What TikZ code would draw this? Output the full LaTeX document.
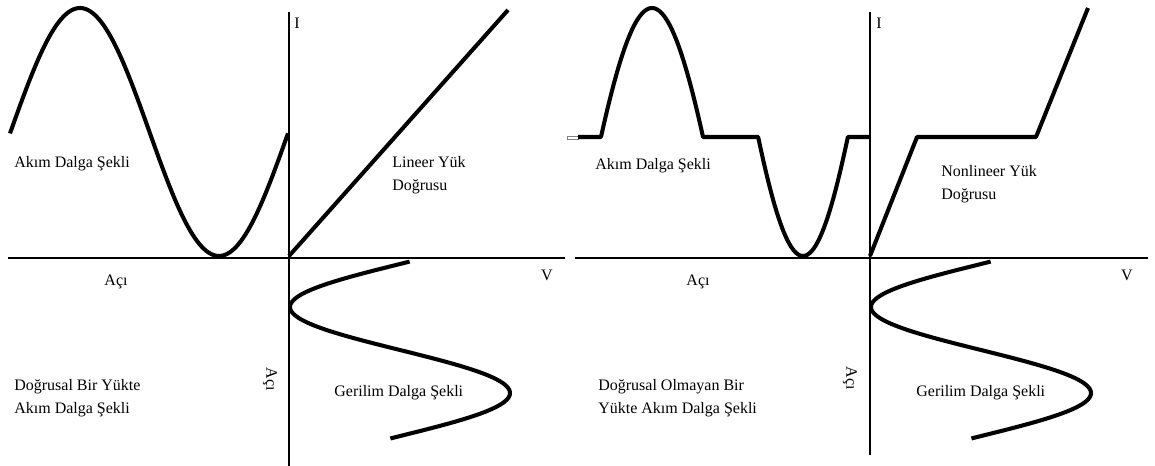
\documentclass[tikz,border=0pt]{standalone}
\usepackage{fontspec}
\setmainfont{Liberation Serif}

\begin{document}
\begin{tikzpicture}[x=0.02cm, y=-0.02cm,
	eksen/.style={line width=0.6pt},
	egri/.style={line width=2.3pt, line join=round},
	etiket/.style={font=\fontsize{9.1}{13}\selectfont, inner sep=0pt}]

\useasboundingbox (0,0) rectangle (1155,466);

% Doğrusal yük
	\draw[eksen] (8,258) -- (565,258);
	\draw[eksen] (289,12) -- (289,466);

	\draw[egri] plot[domain=10:288, samples=120] (\x, {132-124*cos(1.295*(\x-80))});
	\draw[egri] (289,256) -- (508,10);
	\draw[egri] plot[domain=-95:275, samples=120] ({400-110*cos(\x)}, {307+0.478*\x});

	\node[etiket, anchor=west] (I1) at (294,23) {I};
	\node[etiket, anchor=west] (akim1) at (14,164) {Akım Dalga Şekli};
	\node[etiket, anchor=west, align=left] (yuk1) at (392,175) {Lineer Yük\\Doğrusu};
	\node[etiket] (aci1) at (116,282) {Açı};
	\node[etiket] (V1) at (547,275) {V};
	\node[etiket, anchor=west, align=left] (dalga1) at (14,398) {Doğrusal Bir Yükte\\Akım Dalga Şekli};
	\node[etiket, rotate=-90] (aciy1) at (270,379) {Açı};
	\node[etiket, anchor=west] (gerilim1) at (334,393) {Gerilim Dalga Şekli};

% Doğrusal olmayan yük
	\draw[eksen] (575,258) -- (1148,258);
	\draw[eksen] (870,12) -- (870,455);

	\draw[gray, line width=0.4pt] (567,136) rectangle (578,139);
	\draw[egri] (578,137) -- (601,137)
		-- plot[domain=25:155, samples=50] ({652+(\x-90)*0.785}, {137-129*(sin(\x)-0.4226)/0.5774})
		-- (758,137)
		-- plot[domain=25:155, samples=50] ({803+(\x-90)*0.69}, {137+119*(sin(\x)-0.4226)/0.5774})
		-- (870,137);
	\draw[egri] (870,256) -- (917,137) -- (1036,137) -- (1088,8);
	\draw[egri] plot[domain=-95:275, samples=120] ({981-110*cos(\x)}, {307+0.478*\x});

	\node[etiket, anchor=west] (I2) at (876,23) {I};
	\node[etiket, anchor=west] (akim2) at (595,166) {Akım Dalga Şekli};
	\node[etiket, anchor=west, align=left] (yuk2) at (941,184) {Nonlineer Yük\\Doğrusu};
	\node[etiket] (aci2) at (698,282) {Açı};
	\node[etiket] (V2) at (1127,275) {V};
	\node[etiket, anchor=west, align=left] (dalga2) at (598,398) {Doğrusal Olmayan Bir\\Yükte Akım Dalga Şekli};
	\node[etiket, rotate=-90] (aciy2) at (850,378) {Açı};
	\node[etiket, anchor=west] (gerilim2) at (916,393) {Gerilim Dalga Şekli};
\end{tikzpicture}
\end{document}
